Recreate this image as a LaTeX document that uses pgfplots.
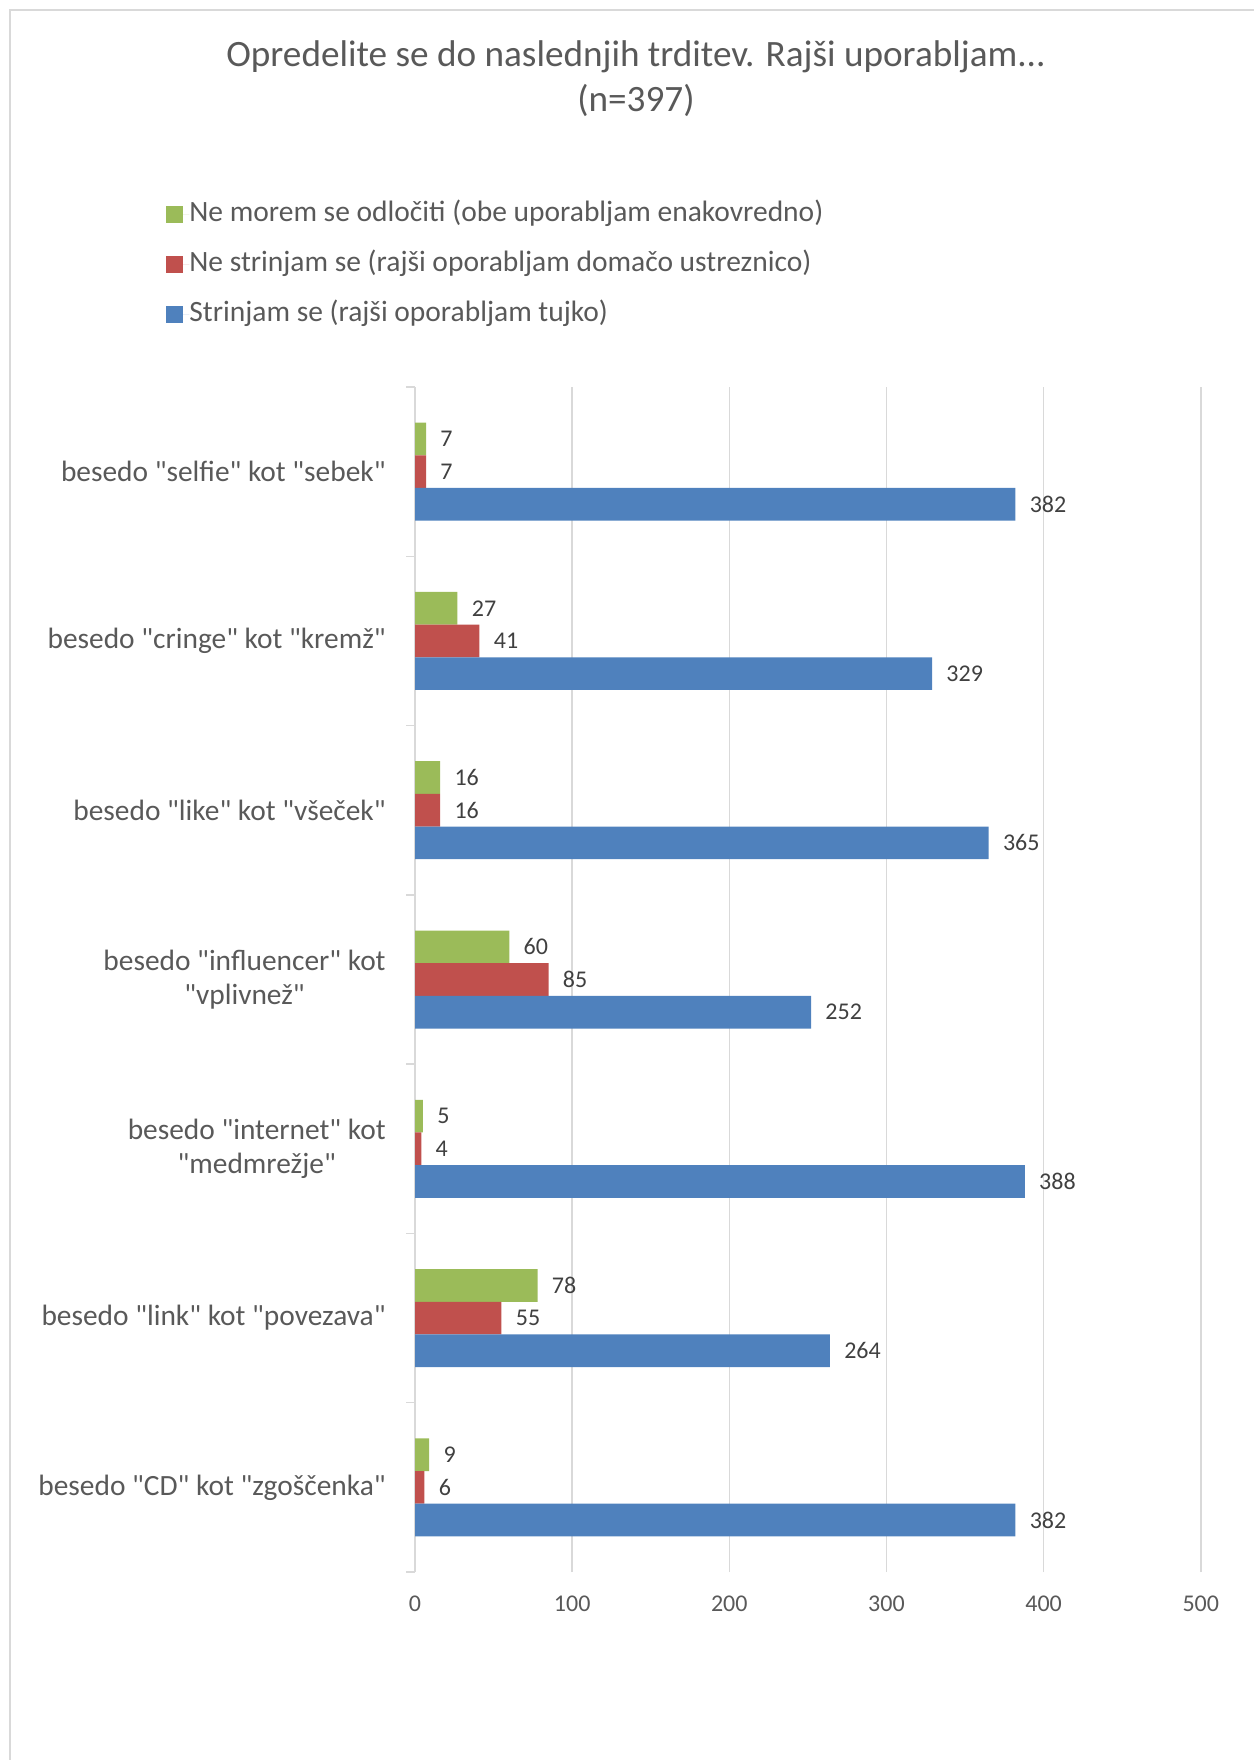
\documentclass[border=0pt]{standalone}
\usepackage{fontspec}
\setmainfont{Carlito}[Ligatures=TeXOff]
\usepackage{pgfplots}
\pgfplotsset{compat=1.18}
\definecolor{cgreen}{HTML}{9BBB59}
\definecolor{cred}{HTML}{C0504D}
\definecolor{cblue}{HTML}{4F81BD}
\definecolor{txt}{HTML}{595959}
\definecolor{lbl}{HTML}{404040}
\definecolor{grd}{HTML}{D9D9D9}
\begin{document}
\begin{tikzpicture}
\path[use as bounding box] (0,0) rectangle (627pt,-880pt);
\draw[grd, line width=1pt] (5pt,-880pt) -- (5pt,-5pt) -- (627pt,-5pt);
\node[txt, font=\fontsize{18.6}{22}\selectfont, inner sep=0pt] at (318pt,-28.5pt) {Opredelite se do naslednjih trditev. Rajši uporabljam...};
\node[txt, font=\fontsize{18.6}{22}\selectfont, inner sep=0pt] at (318pt,-50pt) {(n=397)};
\begin{axis}[
  at={(207.5pt,-786pt)}, anchor=south west,
  scale only axis, width=392.9pt, height=592.5pt,
  xmin=0, xmax=500, ymin=-0.5, ymax=6.5,
  xbar, bar width=0.193,
  /pgf/number format/assume math mode=true,
  axis x line*=bottom, axis y line*=left,
  x axis line style={draw=none},
  y axis line style={grd, line width=0.75pt},
  xtick={0,100,...,500},
  xmajorgrids, grid style={grd, line width=0.75pt},
  major tick length=0pt,
  minor tick length=4.5pt,
  minor ytick={-0.5,0.5,...,6.5},
  tick align=outside,
  minor tick style={grd, line width=0.75pt},
  ytick={0,...,6},
  yticklabels={
    {besedo "CD" kot "zgoščenka"},
    {besedo "link" kot "povezava"},
    {besedo "internet" kot\\"medmrežje"},
    {besedo "influencer" kot\\"vplivnež"},
    {besedo "like" kot "všeček"},
    {besedo "cringe" kot "kremž"},
    {besedo "selfie" kot "sebek"}},
  y tick label style={font=\fontsize{14.7}{17}\selectfont, txt, align=center, inner sep=0pt, xshift=-14.5pt},
  x tick label style={font=\fontsize{12}{14}\selectfont, txt, inner sep=0pt, yshift=-12pt},
  nodes near coords,
  nodes near coords style={font=\fontsize{12}{14}\selectfont, lbl, anchor=west, inner sep=0pt, xshift=7pt},
  legend style={at={(-0.3169,1.1566)}, anchor=north west, draw=none, fill=none,
    font=\fontsize{14.75}{17}\selectfont, text=txt, row sep=12pt, inner sep=0pt,
    nodes={inner sep=0pt, text height=10pt, text depth=3pt}},
  legend cell align=left,
  legend image code/.code={\fill[#1] (0pt,-4.25pt) rectangle (8.5pt,4.25pt); \path (0pt,0pt) -- (11.5pt,0pt);},
]
\addplot[fill=cgreen, draw=none, bar shift=0.193] coordinates {(9,0) (78,1) (5,2) (60,3) (16,4) (27,5) (7,6)};
\addplot[fill=cred, draw=none, bar shift=0] coordinates {(6,0) (55,1) (4,2) (85,3) (16,4) (41,5) (7,6)};
\addplot[fill=cblue, draw=none, bar shift=-0.193] coordinates {(382,0) (264,1) (388,2) (252,3) (365,4) (329,5) (382,6)};
\legend{Ne morem se odločiti (obe uporabljam enakovredno),Ne strinjam se (rajši oporabljam domačo ustreznico),Strinjam se (rajši oporabljam tujko)}
\end{axis}
\end{tikzpicture}
\end{document}
